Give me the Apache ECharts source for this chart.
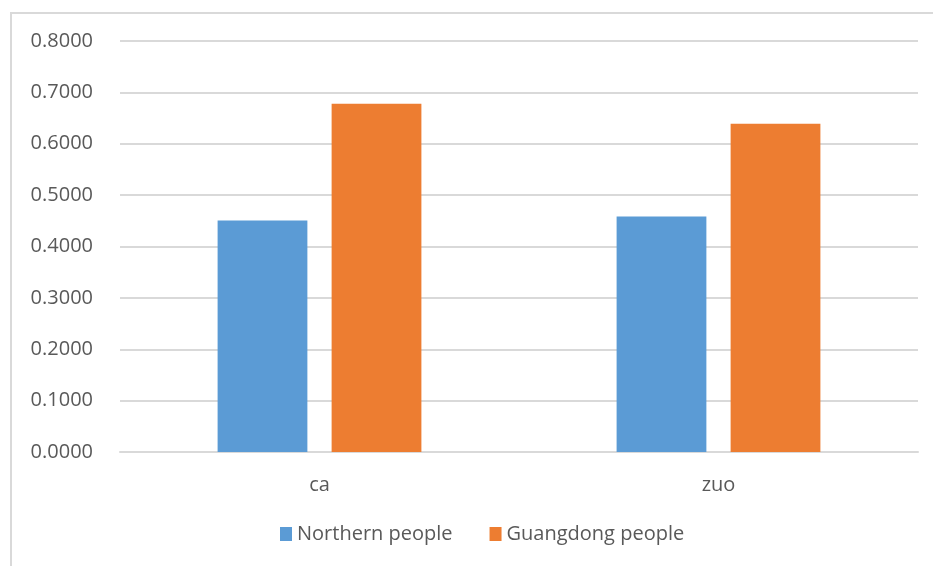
<!DOCTYPE html>
<html>
<head>
<meta charset="utf-8">
<style>
  html, body { margin: 0; padding: 0; background: #ffffff; }
  #chart { width: 933px; height: 566px; }
</style>
<script src="https://cdn.jsdelivr.net/npm/echarts@6/dist/echarts.min.js"></script>
</head>
<body>
<div id="chart"></div>
<script>
// Categories and series values
const categories = ['ca', 'zuo'];
const northernPeople = [0.4505, 0.4582];
const guangdongPeople = [0.6777, 0.6388];
const yTicks = { min: 0, max: 0.8, interval: 0.1 };

const textColor = '#595959';
const lineColor = '#d9d9d9';
const fontFamily = '"Open Sans", "Noto Sans", sans-serif';
const fontSize = 20;

const chart = echarts.init(document.getElementById('chart'), null, { renderer: 'canvas' });

chart.setOption({
  animation: false,
  backgroundColor: '#ffffff',
  textStyle: { fontFamily: fontFamily },
  // Chart-area frame (runs past the right and bottom edges of the view)
  graphic: [{
    type: 'rect',
    shape: { x: 11, y: 13, width: 960, height: 620 },
    style: { fill: 'none', stroke: lineColor, lineWidth: 2 },
    silent: true,
    z: -1
  }],
  grid: { left: 120, right: 15, top: 41, bottom: 114 },
  legend: {
    bottom: 17,
    left: 275,
    itemWidth: 12,
    itemHeight: 14,
    itemGap: 37,
    icon: 'rect',
    textStyle: { color: textColor, fontSize: fontSize, fontFamily: fontFamily },
    data: ['Northern people', 'Guangdong people']
  },
  xAxis: {
    type: 'category',
    data: categories,
    axisLine: { show: true, lineStyle: { color: lineColor, width: 2 } },
    axisTick: { show: false },
    axisLabel: { color: textColor, fontSize: fontSize, fontFamily: fontFamily, margin: 23 }
  },
  yAxis: {
    type: 'value',
    min: yTicks.min,
    max: yTicks.max,
    interval: yTicks.interval,
    axisLine: { show: false },
    axisTick: { show: false },
    splitLine: { lineStyle: { color: lineColor, width: 2 } },
    axisLabel: {
      color: textColor,
      fontSize: fontSize,
      fontFamily: fontFamily,
      margin: 27,
      formatter: v => v.toFixed(4)
    }
  },
  series: [
    {
      name: 'Northern people',
      type: 'bar',
      data: northernPeople,
      barWidth: '22.5%',
      barGap: '27%',
      itemStyle: { color: '#5b9bd5' }
    },
    {
      name: 'Guangdong people',
      type: 'bar',
      data: guangdongPeople,
      barWidth: '22.5%',
      barGap: '27%',
      itemStyle: { color: '#ed7d31' }
    }
  ]
});
</script>
</body>
</html>
